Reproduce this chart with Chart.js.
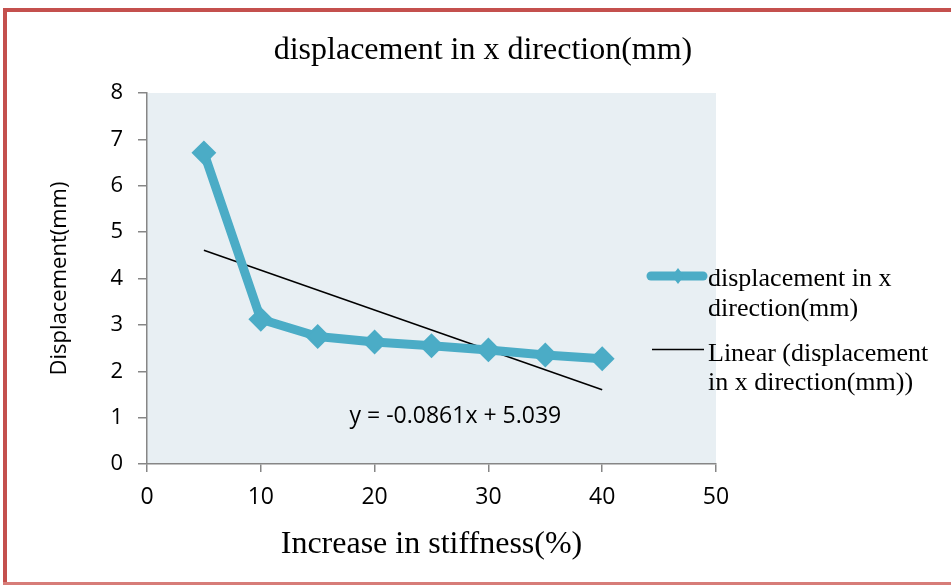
<!DOCTYPE html>
<html lang="en">
<head>
    <meta charset="UTF-8">
    <title>displacement in x direction(mm)</title>
    <script src="https://cdn.jsdelivr.net/npm/chart.js"></script>
    <style>
        html, body { margin: 0; background: #fff; overflow: hidden; width: 951px; height: 585px; }
        .bar { position: absolute; background: #C4504D; }
        #wrap { position: absolute; left: 0; top: 0; width: 951px; height: 585px; }
    </style>
</head>
<body>
    <div class="bar" style="left:3px; top:8px; width:948px; height:4px;"></div>
    <div class="bar" style="left:3px; top:8px; width:4px; height:577px;"></div>
    <div class="bar" style="left:3px; top:582px; width:948px; height:3px; background:#D77C78;"></div>
    <div id="wrap"><canvas id="myChart" width="951" height="585"></canvas></div>
    <script>
        // Données
        const stiffness = [5, 10, 15, 20, 25, 30, 35, 40];
        const displacement = [6.71, 3.12, 2.75, 2.63, 2.55, 2.46, 2.35, 2.27];
        const trendX = [5, 40];
        const trendY = [4.61, 1.60];

        const chartTitle = 'displacement in x direction(mm)';
        const xTitle = 'Increase in stiffness(%)';
        const yTitle = 'Displacement(mm)';
        const equation = 'y = -0.0861x + 5.039';
        const legendSeries = ['displacement in x', 'direction(mm)'];
        const legendTrend = ['Linear (displacement', 'in x direction(mm))'];

        const blue = '#4BACC6';
        const serif = '"Liberation Serif", "Times New Roman", serif';
        const sans = '"Open Sans", "Noto Sans", sans-serif';

        // fond de la zone de tracé + titre, équation, légende
        const decor = {
            id: 'decor',
            beforeDraw(chart) {
                const a = chart.chartArea;
                const c = chart.ctx;
                c.save();
                c.fillStyle = '#E8EFF3';
                c.fillRect(a.left, a.top, a.right - a.left, a.bottom - a.top);
                c.restore();
            },
            afterDraw(chart) {
                const c = chart.ctx;
                const x = chart.scales.x, y = chart.scales.y;
                c.save();
                c.fillStyle = '#000';
                c.textBaseline = 'middle';
                c.textAlign = 'center';
                c.font = '32px ' + serif;
                c.fillText(chartTitle, 483, 51);

                c.font = '23px ' + sans;
                c.fillText(equation, x.getPixelForValue(27.1), y.getPixelForValue(1.02));

                // légende
                c.strokeStyle = blue;
                c.lineWidth = 9;
                c.lineCap = 'round';
                c.beginPath(); c.moveTo(651, 276); c.lineTo(703, 276); c.stroke();
                c.fillStyle = blue;
                c.beginPath();
                c.moveTo(678, 268); c.lineTo(684, 276); c.lineTo(678, 284); c.lineTo(672, 276);
                c.closePath(); c.fill();
                c.strokeStyle = '#000';
                c.lineWidth = 1.5;
                c.lineCap = 'butt';
                c.beginPath(); c.moveTo(652, 349.5); c.lineTo(704, 349.5); c.stroke();

                c.fillStyle = '#000';
                c.textAlign = 'left';
                c.font = '26px ' + serif;
                c.fillText(legendSeries[0], 708, 279);
                c.fillText(legendSeries[1], 708, 309);
                c.fillText(legendTrend[0], 708, 354);
                c.fillText(legendTrend[1], 708, 383);
                c.restore();
            }
        };

        const ctx = document.getElementById('myChart').getContext('2d');
        const myChart = new Chart(ctx, {
            type: 'line',
            data: {
                datasets: [{
                    label: legendSeries.join(' '),
                    data: stiffness.map((s, i) => ({ x: s, y: displacement[i] })),
                    borderColor: blue,
                    backgroundColor: blue,
                    borderWidth: 9,
                    pointStyle: 'rectRot',
                    pointRadius: 11,
                    pointBorderWidth: 2,
                    pointBackgroundColor: blue,
                    pointBorderColor: blue,
                    borderJoinStyle: 'round',
                    tension: 0
                }, {
                    label: legendTrend.join(' '),
                    data: trendX.map((s, i) => ({ x: s, y: trendY[i] })),
                    borderColor: '#000',
                    borderWidth: 1.5,
                    pointRadius: 0,
                    tension: 0
                }]
            },
            options: {
                responsive: false,
                animation: false,
                layout: { padding: { top: 93, right: 235, left: 0, bottom: 0 } },
                plugins: {
                    legend: { display: false },
                    title: { display: false },
                    tooltip: { enabled: false }
                },
                scales: {
                    x: {
                        type: 'linear',
                        min: 0, max: 50,
                        afterFit(scale) { scale.height = 121; },
                        ticks: { stepSize: 10, color: '#000', padding: 12, font: { size: 23, family: sans } },
                        grid: { drawOnChartArea: false, tickLength: 8, color: '#868686', lineWidth: 1.5 },
                        border: { color: '#868686', width: 1.5 },
                        title: { display: true, text: xTitle, color: '#000', font: { size: 32, family: serif }, padding: { top: 0, bottom: 21 } }
                    },
                    y: {
                        min: 0, max: 8,
                        afterFit(scale) { scale.width = 147; },
                        ticks: { stepSize: 1, color: '#000', padding: 15, font: { size: 22, family: sans } },
                        grid: { drawOnChartArea: false, tickLength: 9, color: '#868686', lineWidth: 1.5 },
                        border: { color: '#868686', width: 1.5 },
                        title: { display: true, text: yTitle, color: '#000', font: { size: 22, family: sans }, padding: { top: 47, bottom: 0 } }
                    }
                }
            },
            plugins: [decor]
        });
    </script>
</body>
</html>
